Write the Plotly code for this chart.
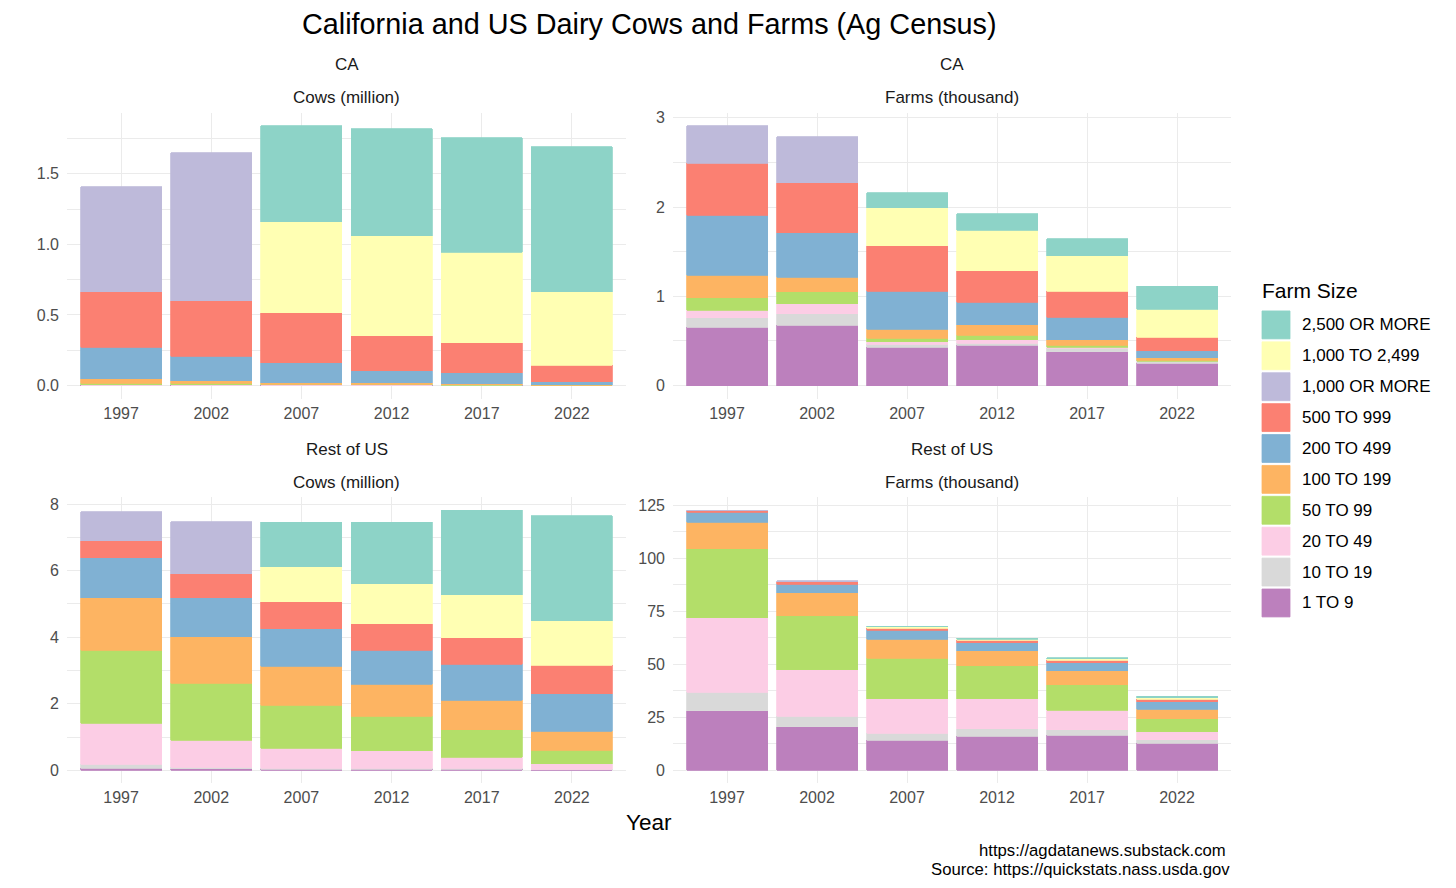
import plotly.graph_objects as go

years = ["1997", "2002", "2007", "2012", "2017", "2022"]
sizes = ["2,500 OR MORE", "1,000 TO 2,499", "1,000 OR MORE", "500 TO 999", "200 TO 499",
         "100 TO 199", "50 TO 99", "20 TO 49", "10 TO 19", "1 TO 9"]
colors = ["#8DD3C7", "#FFFFB3", "#BEBADA", "#FB8072", "#80B1D3",
          "#FDB462", "#B3DE69", "#FCCDE5", "#D9D9D9", "#BC80BD"]

# rows follow `sizes` order, columns follow `years`
ca_cows = [
    [None, None, 0.679, 0.756, 0.811, 1.025],
    [None, None, 0.645, 0.707, 0.640, 0.520],
    [0.742, 1.046, None, None, None, None],
    [0.393, 0.394, 0.353, 0.247, 0.212, 0.116],
    [0.221, 0.172, 0.142, 0.085, 0.076, 0.023],
    [0.033, 0.018, 0.012, 0.012, 0.008, 0.003],
    [0.010, 0.009, 0.004, 0.005, 0.003, 0.001],
    [0.004, 0.004, 0.002, 0.002, 0.001, 0.0005],
    [0.001, 0.002, 0.001, 0.001, 0.001, 0.0003],
    [0.002, 0.002, 0.002, 0.002, 0.002, 0.001],
]
ca_farms = [
    [None, None, 0.168, 0.182, 0.193, 0.254],
    [None, None, 0.425, 0.455, 0.395, 0.313],
    [0.421, 0.514, None, None, None, None],
    [0.582, 0.559, 0.506, 0.350, 0.291, 0.153],
    [0.671, 0.500, 0.429, 0.254, 0.254, 0.078],
    [0.253, 0.160, 0.101, 0.115, 0.063, 0.026],
    [0.138, 0.134, 0.037, 0.053, 0.019, 0.015],
    [0.086, 0.112, 0.030, 0.041, 0.015, 0.007],
    [0.104, 0.130, 0.033, 0.022, 0.037, 0.015],
    [0.656, 0.675, 0.429, 0.451, 0.380, 0.250],
]
us_cows = [
    [None, None, 1.34, 1.85, 2.54, 3.15],
    [None, None, 1.05, 1.19, 1.28, 1.34],
    [0.86, 1.57, None, None, None, None],
    [0.52, 0.72, 0.80, 0.80, 0.81, 0.85],
    [1.20, 1.16, 1.13, 1.03, 1.08, 1.13],
    [1.58, 1.40, 1.18, 0.96, 0.88, 0.56],
    [2.19, 1.72, 1.28, 1.03, 0.83, 0.41],
    [1.22, 0.80, 0.60, 0.53, 0.33, 0.16],
    [0.13, 0.05, 0.04, 0.03, 0.03, 0.02],
    [0.06, 0.05, 0.03, 0.03, 0.03, 0.02],
]
us_farms = [
    [None, None, 0.3, 0.5, 0.6, 0.6],
    [None, None, 0.6, 0.6, 0.6, 0.9],
    [0.3, 0.5, None, None, None, None],
    [0.6, 1.1, 0.9, 1.0, 1.1, 1.1],
    [4.6, 4.1, 4.4, 3.8, 3.8, 3.6],
    [12.5, 10.8, 8.8, 7.1, 6.7, 4.3],
    [32.6, 25.3, 19.1, 15.5, 12.1, 6.1],
    [35.1, 22.0, 16.3, 14.1, 9.1, 3.9],
    [8.8, 5.0, 3.4, 3.6, 2.5, 1.7],
    [28.0, 20.5, 14.1, 16.1, 16.6, 12.7],
]

panels = [
    ("CA", "Cows (million)", ca_cows, 0.5, 0.25, ".1f"),
    ("CA", "Farms (thousand)", ca_farms, 1, 0.5, "d"),
    ("Rest of US", "Cows (million)", us_cows, 2, 1, "d"),
    ("Rest of US", "Farms (thousand)", us_farms, 25, 12.5, "d"),
]

W, H = 1456, 888
FONT = "Liberation Sans"
col_px = [(67, 626), (673, 1231)]
row_px = [(110, 397), (496, 783)]

fig = go.Figure()
annotations = []
shapes = []

for p, (region, measure, data, dt, mdt, fmt) in enumerate(panels):
    r, c = divmod(p, 2)
    ax = "" if p == 0 else str(p + 1)
    for i in range(len(sizes) - 1, -1, -1):
        fig.add_trace(go.Bar(
            x=years, y=data[i], name=sizes[i],
            marker=dict(color=colors[i], line=dict(color=colors[i], width=0.8)),
            xaxis="x" + ax, yaxis="y" + ax, showlegend=False,
        ))
    totals = [sum(v[j] for v in data if v[j] is not None) for j in range(len(years))]
    mx = max(totals)
    x0, x1 = col_px[c]
    y0, y1 = row_px[r]
    fig.layout["xaxis" + ax] = dict(
        domain=[x0 / W, x1 / W], anchor="y" + ax, type="category",
        range=[-0.6, len(years) - 0.4], showgrid=True, gridcolor="#EBEBEB", gridwidth=1.1,
        zeroline=False, showline=False, ticks="",
        tickfont=dict(family=FONT, size=16, color="#4D4D4D"), ticklabelstandoff=3,
    )
    fig.layout["yaxis" + ax] = dict(
        domain=[1 - y1 / H, 1 - y0 / H], anchor="x" + ax,
        range=[-0.05 * mx, 1.05 * mx], dtick=dt, tick0=0, tickformat=fmt,
        showgrid=True, gridcolor="#EBEBEB", gridwidth=1.1,
        minor=dict(dtick=mdt, tick0=0, showgrid=True, gridcolor="#EBEBEB", gridwidth=0.6),
        zeroline=False, showline=False, ticks="",
        tickfont=dict(family=FONT, size=16, color="#4D4D4D"), ticklabelstandoff=7,
    )
    cx = (x0 + x1) / 2 / W
    annotations.append(dict(text=region, x=cx, y=1 - (y0 - 48) / H, xref="paper", yref="paper",
                            showarrow=False, font=dict(family=FONT, size=17, color="#1A1A1A"),
                            xanchor="center", yanchor="middle"))
    annotations.append(dict(text=measure, x=cx, y=1 - (y0 - 15) / H, xref="paper", yref="paper",
                            showarrow=False, font=dict(family=FONT, size=17, color="#1A1A1A"),
                            xanchor="center", yanchor="middle"))

# title, axis title, caption
annotations.append(dict(text="California and US Dairy Cows and Farms (Ag Census)", x=649 / W, y=1 - 21 / H,
                        xref="paper", yref="paper", showarrow=False,
                        font=dict(family=FONT, size=28.8, color="black"), xanchor="center", yanchor="middle"))
annotations.append(dict(text="Year", x=649 / W, y=1 - 822 / H, xref="paper", yref="paper", showarrow=False,
                        font=dict(family=FONT, size=22.5, color="black"), xanchor="center", yanchor="middle"))
annotations.append(dict(text="https://agdatanews.substack.com ", x=1232 / W, y=1 - 850 / H, xref="paper",
                        yref="paper", showarrow=False, font=dict(family=FONT, size=16.7, color="black"),
                        xanchor="right", yanchor="middle"))
annotations.append(dict(text="Source: https://quickstats.nass.usda.gov", x=1232 / W, y=1 - 869 / H,
                        xref="paper", yref="paper", showarrow=False,
                        font=dict(family=FONT, size=16.7, color="black"), xanchor="right", yanchor="middle"))

# legend
annotations.append(dict(text="Farm Size", x=1260 / W, y=1 - 288 / H, xref="paper", yref="paper",
                        showarrow=False, font=dict(family=FONT, size=21, color="black"),
                        xanchor="left", yanchor="middle"))
for i, (s, col) in enumerate(zip(sizes, colors)):
    cy = 323 + i * 31
    shapes.append(dict(type="rect", xref="paper", yref="paper",
                       x0=1262 / W, x1=1290 / W, y0=1 - (cy - 14) / H, y1=1 - (cy + 14) / H,
                       fillcolor=col, line=dict(color=col, width=0.8)))
    annotations.append(dict(text=s, x=1300 / W, y=1 - cy / H, xref="paper", yref="paper",
                            showarrow=False, font=dict(family=FONT, size=17, color="black"),
                            xanchor="left", yanchor="middle"))

fig.update_layout(
    width=W, height=H, margin=dict(l=0, r=0, t=0, b=0),
    barmode="stack", bargap=0.1,
    paper_bgcolor="white", plot_bgcolor="white",
    annotations=annotations, shapes=shapes, showlegend=False,
    font=dict(family=FONT),
)

fig.write_html("out.html")
